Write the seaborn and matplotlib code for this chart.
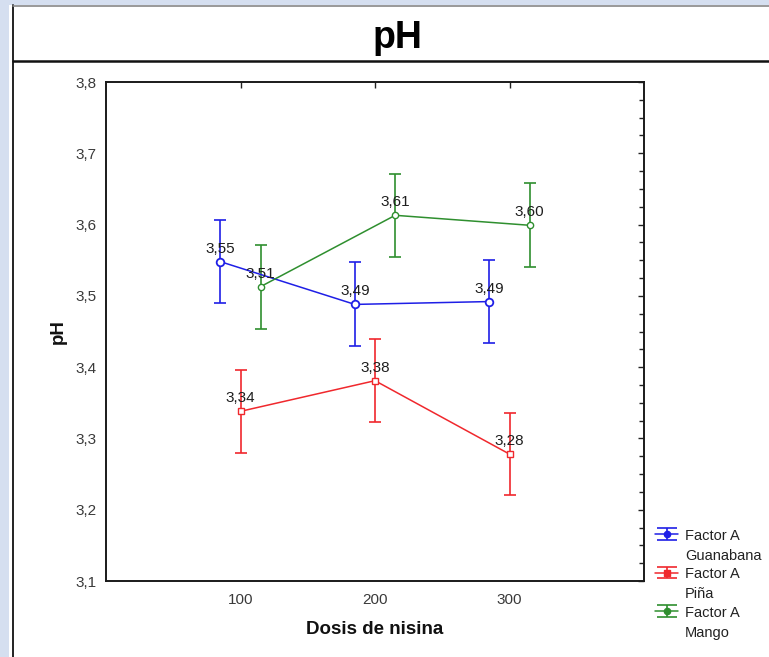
import matplotlib
matplotlib.use("Agg")
import matplotlib.pyplot as plt
from matplotlib.lines import Line2D
from matplotlib.patches import Rectangle
from matplotlib.container import ErrorbarContainer
from matplotlib.ticker import MultipleLocator, FixedLocator, FixedFormatter
from matplotlib.legend_handler import HandlerTuple, HandlerErrorbar
import numpy as np
import pandas as pd
import seaborn as sns

# --- data -------------------------------------------------------------
doses = [100, 200, 300]
fruits = ["Guanabana", "Piña", "Mango"]
ph_guanabana = [3.548, 3.488, 3.492]
ph_pina = [3.338, 3.381, 3.278]
ph_mango = [3.513, 3.613, 3.599]
ci_guanabana = [0.058, 0.059, 0.058]
ci_pina = [0.058, 0.058, 0.058]
ci_mango = [0.059, 0.058, 0.059]
y_ticks = [3.1, 3.2, 3.3, 3.4, 3.5, 3.6, 3.7, 3.8]
y_tick_labels = ["3,1", "3,2", "3,3", "3,4", "3,5", "3,6", "3,7", "3,8"]
x_tick_labels = ["100", "200", "300"]

# --- styling ----------------------------------------------------------
colors = {"Guanabana": "#1f1fe6", "Piña": "#f0282d", "Mango": "#2f8f2f"}
markers = {"Guanabana": "o", "Piña": "s", "Mango": "o"}
marker_sizes = {"Guanabana": 5.5, "Piña": 5, "Mango": 4.5}
dodge = {"Guanabana": -15, "Piña": 0, "Mango": 15}

means = {"Guanabana": ph_guanabana, "Piña": ph_pina, "Mango": ph_mango}
cis = {"Guanabana": ci_guanabana, "Piña": ci_pina, "Mango": ci_mango}

rows = []
for f in fruits:
    for d, m, c in zip(doses, means[f], cis[f]):
        rows.append({"fruit": f, "dose": d, "pos": d + dodge[f], "ph": m, "ci": c})
df = pd.DataFrame(rows)

sns.set_theme(style="white")
plt.rcParams["font.family"] = ["Liberation Sans", "DejaVu Sans"]

fig = plt.figure(figsize=(7.69, 6.57), dpi=100)
ax = fig.add_axes([106 / 769, 1 - 581 / 657, (644 - 106) / 769, (581 - 82) / 657])

handles = []
for f in fruits:
    sub = df[df["fruit"] == f]
    sns.lineplot(data=sub, x="pos", y="ph", ax=ax, color=colors[f],
                 marker=markers[f], markersize=marker_sizes[f],
                 markerfacecolor="white", markeredgecolor=colors[f],
                 markeredgewidth=1.3 if f == "Guanabana" else 1.0,
                 linewidth=1.1, legend=False, zorder=3)
    err = ax.errorbar(sub["pos"], sub["ph"], yerr=sub["ci"], fmt="none",
                      ecolor=colors[f], elinewidth=1.2, capsize=4.5,
                      capthick=1.2, zorder=2)
    proxy = Line2D([], [], color=colors[f], lw=1.1, marker=markers[f],
                   markersize=4.5, markerfacecolor=colors[f],
                   markeredgecolor=colors[f])
    handles.append((err, proxy))
    for _, r in sub.iterrows():
        ax.annotate(f"{r['ph']:.2f}".replace(".", ","), (r["pos"], r["ph"]),
                    xytext=(0, 6.5), textcoords="offset points",
                    ha="center", va="baseline", fontsize=11,
                    color="#1e1e1e", zorder=4)

# axes limits and ticks
ax.set_xlim(0, 400)
ax.set_ylim(3.1, 3.8)
ax.xaxis.set_major_locator(FixedLocator(doses))
ax.xaxis.set_major_formatter(FixedFormatter(x_tick_labels))
ax.yaxis.set_major_locator(FixedLocator(y_ticks))
ax.yaxis.set_major_formatter(FixedFormatter(y_tick_labels))
ax.yaxis.set_minor_locator(MultipleLocator(0.025))
ax.tick_params(which="both", direction="in", top=True, right=True,
               colors="#222222", labelcolor="#3a3a3a", labelsize=11)
ax.tick_params(which="major", length=4, width=1.0, pad=7)
ax.tick_params(which="minor", length=3.5, width=1.0)
ax.tick_params(axis="x", which="major", pad=9)
for s in ax.spines.values():
    s.set_visible(True)
    s.set_color("#1a1a1a")
    s.set_linewidth(1.4)

ax.set_xlabel("Dosis de nisina", fontsize=13.5, fontweight="bold",
              color="#111111", labelpad=10)
ax.set_ylabel("pH", fontsize=13.5, fontweight="bold", color="#111111",
              labelpad=6)


class WideCapErrorbar(HandlerErrorbar):
    """Error-bar legend symbol with caps spanning the whole handle."""

    def create_artists(self, *args, **kwargs):
        artists = super().create_artists(*args, **kwargs)
        for a in artists:
            if isinstance(a, Line2D) and a.get_marker() == "_":
                a.set_markersize(15)
        return artists


# legend (outside, bottom right)
leg = fig.legend(handles, [f"Factor A\n{f}" for f in fruits],
                 loc="upper left", bbox_to_anchor=(655 / 769, 1 - 529 / 657),
                 frameon=False, fontsize=10.5, handlelength=1.6,
                 handletextpad=0.45, labelspacing=0.3, borderpad=0,
                 borderaxespad=0,
                 handler_map={tuple: HandlerTuple(ndivide=1),
                              ErrorbarContainer: WideCapErrorbar(xerr_size=0.4)})
for t in leg.get_texts():
    t.set_color("#222222")
    t.set_linespacing(1.55)
# put each symbol next to the first line of its label
try:
    for col in leg._legend_handle_box.get_children():
        for row in col.get_children():
            row.align = "top"
except AttributeError:
    pass

# page frame and title strip
fig.patches.append(Rectangle((0, 0), 9 / 769, 1, transform=fig.transFigure,
                             facecolor="#d5dff0", edgecolor="none", zorder=0))
fig.patches.append(Rectangle((0, 1 - 5 / 657), 1, 5 / 657,
                             transform=fig.transFigure,
                             facecolor="#d5dff0", edgecolor="none", zorder=0))
fig.lines.append(Line2D([13 / 769, 13 / 769], [0, 1 - 5 / 657],
                        transform=fig.transFigure, color="#111111", lw=1.3))
fig.lines.append(Line2D([13 / 769, 1], [1 - 6 / 657, 1 - 6 / 657],
                        transform=fig.transFigure, color="#888888", lw=1.2))
fig.lines.append(Line2D([13 / 769, 1], [1 - 61 / 657, 1 - 61 / 657],
                        transform=fig.transFigure, color="#111111", lw=1.8))
fig.text(397 / 769, 1 - 48 / 657, "pH", ha="center", va="baseline",
         fontsize=27, fontweight="bold", color="#000000")

fig.savefig("out.png", dpi=100)
